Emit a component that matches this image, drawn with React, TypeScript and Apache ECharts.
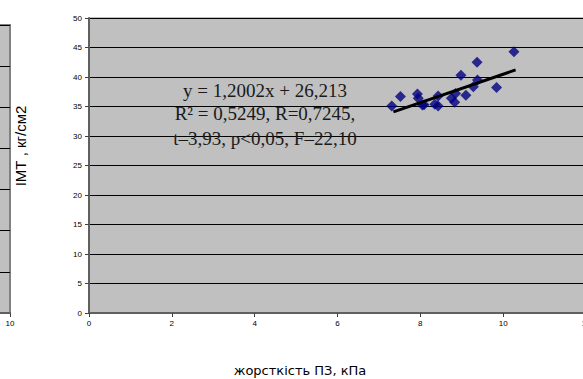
import React, { useEffect, useRef } from "react";
import * as echarts from "echarts";

// ---- data ----
const stiffness = [7.31, 7.52, 7.93, 7.95, 8.05, 8.09, 8.35, 8.43, 8.43, 8.75, 8.83, 8.85, 8.98, 9.1, 9.28, 9.38, 9.37, 9.84, 10.26];
const bmi = [35.1, 36.7, 37.1, 36.4, 35.25, 35.3, 35.4, 36.8, 35.1, 36.4, 35.7, 37.2, 40.3, 36.9, 38.35, 39.5, 42.5, 38.2, 44.3];
const trendX = [7.35, 10.3];
const trendY = [34.1, 41.2];
const yMin = 0, yMax = 50, yStep = 5;
const xMin = 0, xMax = 12, xStep = 2;
const equationLines = ["y = 1,2002x + 26,213", "R² = 0,5249, R=0,7245,", "t–3,93, p<0,05, F–22,10"];
const yTitle = "ІМТ , кг/см2";
const xTitle = "жорсткість ПЗ, кПа";
// fragment of neighbouring chart on the left
const leftXMin = 0, leftXMax = 10;
const leftYMin = 0, leftYMax = 7, leftYStep = 1;

const SHIFT = 200; // chart canvas starts this many pixels left of the page

export default function App() {
  const ref = useRef<HTMLDivElement>(null);
  useEffect(() => {
    const chart = echarts.init(ref.current!, null, { renderer: "svg" });
    const sans = "Liberation Sans, Arial, sans-serif";
    const serif = "Liberation Serif, Times New Roman, serif";
    chart.setOption({
      animation: false,
      backgroundColor: "#ffffff",
      grid: [
        { left: 89 + SHIFT, top: 18, right: 14, bottom: 66, show: true, backgroundColor: "#C0C0C0", borderColor: "#808080", borderWidth: 1 },
        { left: 0, top: 25, right: 800 - SHIFT - 10, bottom: 66, show: true, backgroundColor: "#C0C0C0", borderColor: "#808080", borderWidth: 2 },
      ],
      xAxis: [
        {
          type: "value", gridIndex: 0, min: xMin, max: xMax, interval: xStep,
          axisLine: { show: true, lineStyle: { color: "#606060", width: 2 } },
          axisTick: { show: true, length: 4, lineStyle: { color: "#404040" } },
          axisLabel: { fontSize: 8, color: "#000", fontFamily: sans, margin: 6 },
          splitLine: { show: false },
        },
        {
          type: "value", gridIndex: 1, min: leftXMin, max: leftXMax, interval: 10,
          axisLine: { show: true, lineStyle: { color: "#606060", width: 2 } },
          axisTick: { show: true, length: 4, lineStyle: { color: "#404040" } },
          axisLabel: { fontSize: 8, color: "#000", fontFamily: sans, margin: 6 },
          splitLine: { show: false },
        },
      ],
      yAxis: [
        {
          type: "value", gridIndex: 0, min: yMin, max: yMax, interval: yStep,
          axisLine: { show: true, lineStyle: { color: "#606060", width: 2 } },
          axisTick: { show: true, length: 4, lineStyle: { color: "#404040" } },
          axisLabel: { fontSize: 8, color: "#000", fontFamily: sans, margin: 7 },
          splitLine: { show: true, lineStyle: { color: "#000", width: 1 } },
        },
        {
          type: "value", gridIndex: 1, min: leftYMin, max: leftYMax, interval: leftYStep,
          axisLine: { show: false },
          axisTick: { show: false },
          axisLabel: { show: false },
          splitLine: { show: true, lineStyle: { color: "#000", width: 1 } },
        },
      ],
      series: [
        {
          type: "scatter", xAxisIndex: 0, yAxisIndex: 0,
          symbol: "diamond", symbolSize: 11,
          itemStyle: { color: "#000080" },
          data: stiffness.map((x, i) => [x, bmi[i]]),
          z: 3,
        },
        {
          type: "line", xAxisIndex: 0, yAxisIndex: 0,
          showSymbol: false, symbol: "none",
          lineStyle: { color: "#000", width: 3 },
          data: trendX.map((x, i) => [x, trendY[i]]),
          z: 4,
        },
      ],
      graphic: [
        ...equationLines.map((t, i) => ({
          type: "text", x: 265 + SHIFT, y: [90, 113, 138][i],
          style: { text: t, fontSize: 19, fontFamily: serif, fill: "#1a1a1a", align: "center", verticalAlign: "middle" },
          z: 10,
        })),
        {
          type: "text", x: 20 + SHIFT, y: 146, rotation: Math.PI / 2,
          style: { text: yTitle, fontSize: 15, fontFamily: sans, fill: "#000", align: "center", verticalAlign: "middle" },
        },
        {
          type: "text", x: 300 + SHIFT, y: 370,
          style: { text: xTitle, fontSize: 13, fontFamily: "DejaVu Sans, sans-serif", fill: "#000", align: "center", verticalAlign: "middle" },
        },
      ],
    });
    return () => chart.dispose();
  }, []);
  return (
    <div style={{ position: "fixed", left: 0, top: 0, width: 583, height: 379, overflow: "hidden", background: "#fff" }}>
      <div ref={ref} style={{ position: "absolute", left: -SHIFT, top: 0, width: 800, height: 379 }} />
    </div>
  );
}
